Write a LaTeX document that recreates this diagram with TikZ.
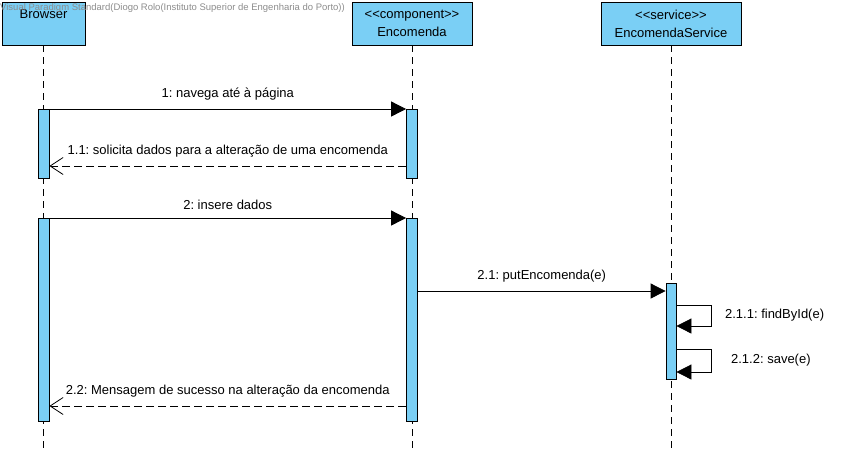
\documentclass[tikz,border=0pt]{standalone}
\usepackage{fontspec}
\setmainfont{Liberation Sans}[Ligatures=TeXOff]
\usepackage{tikz}
\usetikzlibrary{arrows.meta,positioning,calc}
\definecolor{lifefill}{HTML}{7ACFF5}
\definecolor{marktext}{HTML}{8C8C8C}
\frenchspacing

\begin{document}
\begin{tikzpicture}[
  x=1pt, y=-1pt,
  lifebox/.style={rectangle, draw=black, fill=lifefill, line width=0.9pt,
                  minimum height=43pt, inner sep=0pt, align=center,
                  font=\fontsize{13}{18}\selectfont},
  act/.style={rectangle, draw=black, fill=lifefill, line width=0.8pt,
              minimum width=11pt, inner sep=0pt, anchor=north},
  lifeline/.style={dash pattern=on 7pt off 5pt, line width=0.8pt},
  msg/.style={-{Triangle[length=15pt,width=15pt]}, line width=0.8pt},
  reply/.style={-{Straight Barb[length=13pt,width=17pt]}, line width=0.8pt,
                dash pattern=on 8pt off 4pt},
  label/.style={font=\fontsize{13}{15}\selectfont},
]
  \useasboundingbox (0,0) rectangle (845,451);
  \coordinate (bottom) at (0,451);

  % lifelines
  \node[lifebox, minimum width=83pt] (browser) at (43.5,23.5) {Browser\\\mbox{}};
  \node[lifebox, minimum width=120pt] (encomenda) at (412,23.5) {<<component>>\\Encomenda};
  \node[lifebox, minimum width=140pt] (service) at (671,23.5) {<<service>>\\EncomendaService};

  \draw[lifeline] (browser.south) -- (browser.south |- bottom);
  \draw[lifeline] (encomenda.south) -- (encomenda.south |- bottom);
  \draw[lifeline] (service.south) -- (service.south |- bottom);

  % activations
  \node[act, minimum height=69pt] (b1) at (43.5,109) {};
  \node[act, minimum height=69pt] (e1) at (412,109) {};
  \node[act, minimum height=203pt] (b2) at (43.5,218) {};
  \node[act, minimum height=203pt] (e2) at (412,218) {};
  \node[act, minimum width=10pt, minimum height=96pt] (s1) at (671,283) {};

  % messages
  \draw[msg] (b1.north east) -- node[above=5pt, label] {1: navega até à página} (e1.north west);
  \draw[reply] ([yshift=-57pt]e1.north west) -- node[above=5pt, label] {1.1: solicita dados para a alteração de uma encomenda} ([yshift=-57pt]b1.north east);
  \draw[msg] (b2.north east) -- node[above=5pt, label] {2: insere dados} (e2.north west);
  \draw[msg] ([yshift=-73pt]e2.north east) -- node[above=5pt, label] {2.1: putEncomenda(e)} ([yshift=-8pt]s1.north west);
  \draw[msg] ([yshift=-22pt]s1.north east) -- ++(35,0)
    -- node[right=10pt, label] {2.1.1: findById(e)} ++(0,21) -- ++(-35,0);
  \draw[msg] ([yshift=-66pt]s1.north east) -- ++(35,0)
    -- node[right=16pt, label] {2.1.2: save(e)} ++(0,23) -- ++(-35,0);
  \draw[reply] ([yshift=-188pt]e2.north west) -- node[above=5pt, label] {2.2: Mensagem de sucesso na alteração da encomenda} ([yshift=-188pt]b2.north east);

  \node[anchor=west, inner sep=0pt, text=marktext, font=\fontsize{9.5}{10}\selectfont] (mark) at (0,8)
    {Visual Paradigm Standard(Diogo Rolo(Instituto Superior de Engenharia do Porto))};
\end{tikzpicture}
\end{document}
